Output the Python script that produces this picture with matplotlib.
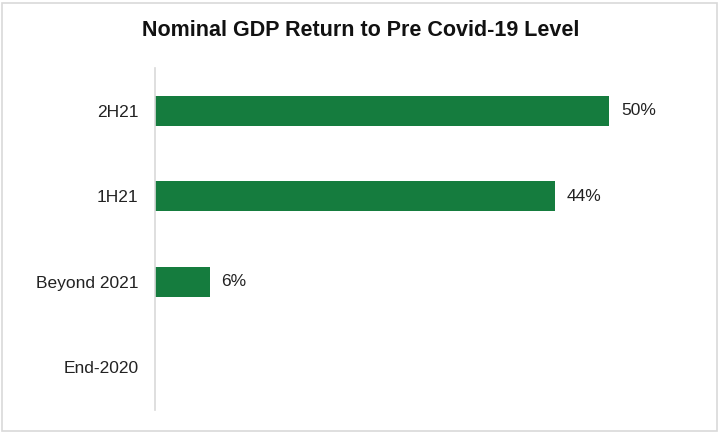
import matplotlib.pyplot as plt
from matplotlib.patches import Rectangle

# Share of forecasts for when nominal GDP recovers
categories = ['End-2020', 'Beyond 2021', '1H21', '2H21']
shares = [0, 6, 44, 50]

plt.rcParams['font.family'] = ['Liberation Sans', 'DejaVu Sans']

fig = plt.figure(figsize=(7.19, 4.33), dpi=100)
ax = fig.add_axes([155 / 719, 23 / 433, 545 / 719, 342 / 433])

ypos = range(len(categories))
ax.barh(ypos, shares, height=0.35, color='#157c3e', edgecolor='none')

for y, v in zip(ypos, shares):
    if v > 0:
        ax.text(v + 1.3, y, f'{v}%', va='center', ha='left', fontsize=12.5, color='#222222')

ax.set_yticks(list(ypos))
ax.set_yticklabels(categories, fontsize=12.5, color='#222222')
ax.set_ylim(-0.5, 3.5)
ax.set_xlim(0, 60)
ax.set_xticks([])
ax.tick_params(axis='y', length=0, pad=12)

for side in ['top', 'right', 'bottom']:
    ax.spines[side].set_visible(False)
ax.spines['left'].set_color('#d9d9d9')
ax.spines['left'].set_linewidth(1.2)

fig.text(361 / 719, 1 - 30 / 433, 'Nominal GDP Return to Pre Covid-19 Level',
         ha='center', va='center', fontsize=15.5, fontweight='bold', color='#111111')

# light frame round the whole chart
fig.patches.append(Rectangle((2 / 719, 2 / 433), 715 / 719, 428 / 433,
                             transform=fig.transFigure, fill=False,
                             edgecolor='#d9d9d9', linewidth=1.2))

fig.savefig('out.png', dpi=100)
